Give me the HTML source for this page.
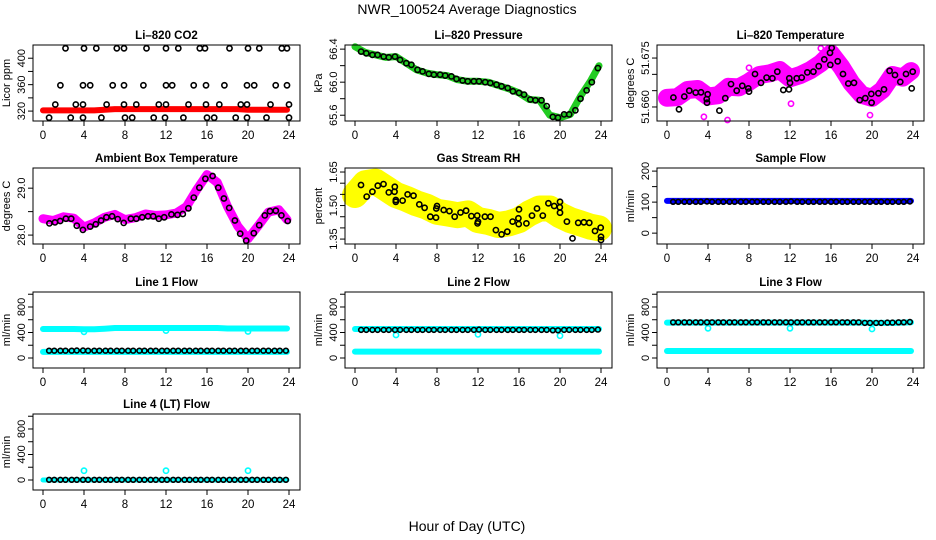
<!DOCTYPE html>
<html><head><meta charset="utf-8">
<style>
html,body{margin:0;padding:0;background:#fff;}
svg{display:block;font-family:"Liberation Sans",Arial,sans-serif;}
</style></head>
<body>
<svg id="chart" width="936" height="540" viewBox="0 0 936 540" xmlns="http://www.w3.org/2000/svg">
<rect x="0" y="0" width="936" height="540" fill="#fff"/>
<text x="467" y="14" text-anchor="middle" font-size="14">NWR_100524  Average Diagnostics</text>
<text x="467" y="531" text-anchor="middle" font-size="14">Hour of Day (UTC)</text>
</svg>
<script>
const X_TICKS = [0,4,8,12,16,20,24];
const BAND_H = [0,1,2,3,4,5,6,7,8,9,10,11,12,13,14,15,16,17,18,19,20,21,22,23,24];
const CIRC_H = [0.6,1.1,1.7,2.2,2.8,3.3,3.9,4.4,5.0,5.5,6.1,6.6,7.2,7.7,8.3,8.8,9.4,9.9,10.5,11.0,11.6,12.1,12.7,13.2,13.8,14.3,14.9,15.4,16.0,16.5,17.1,17.6,18.2,18.7,19.3,19.8,20.4,20.9,21.5,22.0,22.6,23.1,23.7];

// CO2
const CO2_BAND = [321,321,321,321,321,321,322,323,323,323,323,323,323,323,323,323,323,323,323,323,322,322,322,322,322];
const CO2_CIRC_H = [2.2,4.0,5.2,7.2,7.9,10.1,12.0,13.2,15.3,15.8,18.2,20.0,21.1,23.3,23.8, 1.7,3.9,4.6,6.8,7.9,9.8,12.0,12.6,14.7,15.9,17.7,19.9,20.6,22.7,23.8, 1.2,3.2,3.9,6.2,7.9,9.1,11.3,12.0,14.2,15.9,17.2,19.3,19.9,22.2,24.0, 0.6,2.7,3.9,5.7,8.0,8.7,10.8,11.9,13.7,16.0,16.7,18.8,19.9,21.8,24.0];
const CO2_CIRC_V = [415,415,415,415,415,415,415,415,415,415,415,415,415,415,415, 359,359,359,359,359,359,359,359,359,359,359,359,359,359,359, 330,330,330,330,330,330,330,330,330,330,330,330,330,330,330, 310,310,310,310,310,310,310,310,310,310,310,310,310,310,310];

// Pressure
const P_BAND = [66.43,66.36,66.33,66.30,66.31,66.23,66.15,66.11,66.09,66.08,66.03,66.01,66.01,66.00,65.96,65.92,65.87,65.79,65.78,65.60,65.57,65.61,65.83,66.02,66.20];
const P_CIRC = [66.37,66.35,66.33,66.33,66.31,66.30,66.31,66.27,66.23,66.21,66.15,66.13,66.10,66.09,66.09,66.08,66.07,66.04,66.02,66.01,66.01,66.01,66.00,65.99,65.97,65.95,65.93,65.89,65.87,65.85,65.79,65.78,65.78,65.71,65.58,65.57,65.61,65.61,65.66,65.80,65.90,66.00,66.17];

// Li-820 temperature
const T_BAND = [51.6628,51.6630,51.6652,51.6655,51.6632,51.6636,51.6662,51.6660,51.6677,51.6698,51.6703,51.6713,51.6688,51.6698,51.6713,51.6734,51.6764,51.6723,51.6673,51.6637,51.6628,51.6652,51.6698,51.6690,51.6710];
const T_CIRC_H = [0.62,1.17,1.69,2.18,2.80,3.32,3.97,3.87,3.90,5.11,5.69,6.24,6.80,7.35,7.93,8.00,8.59,9.17,9.72,10.28,10.76,11.35,11.90,11.93,12.00,12.65,13.14,13.69,14.28,14.80,15.35,15.90,15.93,16.07,16.65,17.17,17.69,18.24,18.80,19.35,19.93,19.96,20.62,21.17,21.72,22.24,22.76,23.32,23.87,23.97];
const T_CIRC_V = [51.6629,51.6593,51.6632,51.6650,51.6644,51.6645,51.6639,51.6624,51.6613,51.6589,51.6627,51.6670,51.6650,51.6665,51.6657,51.6647,51.6701,51.6674,51.6690,51.6688,51.6708,51.6652,51.6654,51.6688,51.6674,51.6688,51.6690,51.6706,51.6708,51.6725,51.6746,51.6766,51.6729,51.6781,51.6740,51.6701,51.6672,51.6674,51.6621,51.6627,51.6640,51.6613,51.6642,51.6654,51.6711,51.6698,51.6677,51.6701,51.6657,51.6708];
const T_OUT_H = [3.6,5.9,12.1,19.8,8.0,15.0];
const T_OUT_V = [51.6570,51.6560,51.6610,51.6575,51.6720,51.6780];

// Ambient box temperature
const A_BAND = [28.35,28.31,28.39,28.36,28.17,28.26,28.38,28.44,28.33,28.37,28.45,28.42,28.43,28.47,28.61,28.97,29.29,29.12,28.61,28.19,27.92,28.20,28.49,28.54,28.33];
const A_CIRC_H = [0.62,1.17,1.68,2.23,2.75,3.30,3.89,4.60,5.15,5.67,6.19,6.74,7.29,7.87,8.58,9.10,9.68,10.24,10.75,11.30,11.82,12.53,13.12,13.64,14.19,14.71,15.26,15.84,16.55,17.10,17.65,18.17,18.72,19.24,19.82,20.57,21.09,21.64,22.15,22.71,23.26,23.87];
const A_CIRC_V = [28.25,28.27,28.30,28.35,28.35,28.20,28.11,28.18,28.23,28.31,28.38,28.40,28.34,28.26,28.35,28.35,28.38,28.40,28.40,28.35,28.38,28.44,28.43,28.45,28.57,28.80,29.01,29.20,29.26,29.01,28.78,28.58,28.31,28.03,27.88,28.04,28.21,28.42,28.51,28.52,28.42,28.30];

// Gas stream RH
const RH_BAND = [1.547,1.600,1.607,1.577,1.547,1.530,1.510,1.495,1.472,1.465,1.457,1.465,1.435,1.427,1.413,1.420,1.435,1.465,1.487,1.487,1.457,1.435,1.420,1.405,1.398];
const RH_CIRC_H = [0.59,1.14,1.70,2.22,2.78,3.30,3.85,3.88,3.98,3.98,4.64,5.13,5.71,6.27,6.79,7.35,7.90,7.93,8.00,8.65,9.21,9.73,10.29,10.84,11.36,11.92,11.95,12.00,12.67,13.22,13.75,14.30,14.86,15.38,15.94,15.97,16.00,16.72,17.27,17.76,18.32,18.87,19.43,19.98,20.00,20.00,20.67,21.22,21.78,22.33,22.86,23.41,23.97,24.00,24.00];
const RH_CIRC_V = [1.592,1.540,1.562,1.589,1.596,1.559,1.562,1.584,1.525,1.517,1.522,1.550,1.544,1.505,1.490,1.450,1.446,1.487,1.498,1.480,1.475,1.450,1.469,1.477,1.453,1.455,1.420,1.428,1.450,1.450,1.390,1.371,1.383,1.428,1.443,1.417,1.483,1.420,1.455,1.487,1.455,1.510,1.498,1.492,1.517,1.468,1.428,1.353,1.423,1.425,1.423,1.386,1.401,1.360,1.346];

// Flows
const SF_BAND = [104,104,104,104,104,104,104,104,104,104,104,104,104,104,104,104,104,104,104,104,104,104,104,104,104];
const SF_CIRC = [101,101,101,101,101,101,102,101,101,101,101,101,101,101,101,101,101,101,101,101,101,102,101,101,101,101,101,101,101,101,101,101,101,101,101,101,101,101,101,101,101,101,102];
const L1_UP = [455,455,455,455,450,450,460,470,470,470,470,470,470,470,470,470,470,470,462,462,462,462,462,462,462];
const L1_LO = [95,95,95,95,95,95,95,95,95,95,95,95,95,95,95,95,95,95,95,95,95,95,95,95,95];
const L1_CIRC = [115,115,115,115,115,118,118,115,115,115,115,115,115,115,115,115,115,115,115,115,115,115,115,115,115,115,115,115,115,115,115,115,115,115,115,115,115,115,115,115,115,115,115];
const L1_OUT_H = [4.0,12.0,20.0];
const L1_OUT_V = [410,430,415];
const L2_UP = [455,455,455,455,455,455,455,455,455,455,455,455,455,455,455,455,455,455,455,455,455,455,455,455,455];
const L2_LO = [100,100,100,100,100,100,100,100,100,100,100,100,100,100,100,100,100,100,100,100,100,100,100,100,100];
const L2_CIRC = [440,440,440,440,440,440,440,440,440,440,440,440,440,440,440,440,440,440,440,440,440,445,440,440,440,440,440,440,440,440,440,440,440,440,435,435,440,440,440,440,440,440,445];
const L2_OUT_H = [4.0,12.0,20.0];
const L2_OUT_V = [360,370,350];
const L3_UP = [555,555,555,555,555,555,555,555,555,555,555,555,555,555,555,555,555,555,555,555,550,550,550,555,560];
const L3_LO = [110,110,110,110,110,110,110,110,110,110,110,110,110,110,110,110,110,110,110,110,110,110,110,110,110];
const L3_CIRC = [560,560,560,560,560,560,560,560,560,560,560,560,560,560,560,560,560,560,560,560,560,560,560,560,560,560,560,560,560,560,560,560,560,560,550,550,550,550,555,555,560,560,565];
const L3_OUT_H = [4.0,12.0,20.0];
const L3_OUT_V = [465,465,455];
const L4_BAND = [0,0,0,0,0,0,0,0,0,0,0,0,0,0,0,0,0,0,0,0,0,0,0,0,0];
const L4_CIRC = [3,3,3,3,3,3,3,3,3,3,3,3,3,3,3,3,3,3,3,3,3,3,3,3,3,3,3,3,3,3,3,3,3,3,3,3,3,3,3,3,3,3,3];
const L4_OUT_H = [4.0,12.0,20.0];
const L4_OUT_V = [145,145,145];

const NS = "http://www.w3.org/2000/svg";
const svg = document.getElementById('chart');
const COLS = [33,345,657];
const ROWS = [45,168,292,414];
const BW = 267, BH = 76;
const FLOW_T = [0,200,400,600,800,1000], FLOW_L = [0,400,800];

function mk(tag, attrs, parent){
  const e = document.createElementNS(NS, tag);
  for (const k in attrs) e.setAttribute(k, attrs[k]);
  (parent||svg).appendChild(e);
  return e;
}

function panel(id, title, ylab, col, row, ymin, ymax, ticks, labels, fmt){
  const L = COLS[col], T = ROWS[row];
  const g = mk('g', {});
  
  
  const sx = h => L + 10 + h * (246/24);
  const sy = v => T + (ymax - v) / (ymax - ymin) * BH;
  const marks = mk('g', {}, g);
  
  
  const box = mk('rect', {x:L, y:T, width:BW, height:BH, fill:'none', stroke:'#000', 'stroke-width':1}, g);
  
  
  const tt = mk('text', {x:L+BW/2, y:T-6, 'text-anchor':'middle', 'font-size':11.5, 'font-weight':'bold'}, g);
  tt.textContent = title;
  
  
  const yl = mk('text', {x:0, y:0, 'text-anchor':'middle', 'font-size':11, transform:`translate(${L-23},${T+BH/2}) rotate(-90)`}, g);
  yl.textContent = ylab;
  
  
  X_TICKS.forEach(h => {
    const x = sx(h);
    const tk = mk('line', {x1:x, x2:x, y1:T+BH, y2:T+BH+5, stroke:'#000'}, g);
    
    
    const lb = mk('text', {x:x, y:T+BH+18, 'text-anchor':'middle', 'font-size':11.5}, g);
    lb.textContent = String(h);
    
    
  });
  ticks.forEach(v => {
    const y = sy(v);
    const tk = mk('line', {x1:L-5, x2:L, y1:y, y2:y, stroke:'#000'}, g);
    
    
  });
  labels.forEach(v => {
    const y = sy(v);
    const lb = mk('text', {x:0, y:0, 'text-anchor':'middle', 'font-size':11, transform:`translate(${L-8},${y}) rotate(-90)`}, g);
    lb.textContent = fmt(v);
    
    
  });
  return {
    band(hs, vs, color, w, name){
      const d = hs.map((h,i)=>(i?'L':'M')+sx(h).toFixed(1)+','+sy(vs[i]).toFixed(1)).join(' ');
      const p = mk('path', {d:d, fill:'none', stroke:color, 'stroke-width':w, 'stroke-linejoin':'round', 'stroke-linecap':'round'}, marks);
      
      
    },
    circles(hs, vs, color, r, name, fill){
      hs.forEach((h,i) => {
        const c = mk('circle', {cx:sx(h).toFixed(1), cy:sy(vs[i]).toFixed(1), r:r, fill:fill||'none', stroke:color, 'stroke-width':1.6}, marks);
        
        
      });
    }
  };
}

const f0 = v => String(v), f1 = v => v.toFixed(1), f2 = v => v.toFixed(2), f3 = v => v.toFixed(3);

let p = panel('co2', 'Li\u2013820 CO2', 'Licor ppm', 0, 0, 305, 420, [320,340,360,380,400], [320,360,400], f0);
p.band(BAND_H.slice(0,24).concat([23.8]), CO2_BAND, '#ff0000', 6, 'co2-red-band');
p.circles(CO2_CIRC_H, CO2_CIRC_V, '#000', 2.6, 'co2-point');

p = panel('pressure', 'Li\u2013820 Pressure', 'kPa', 1, 0, 65.53, 66.45, [65.6,65.8,66.0,66.2,66.4], [65.6,66.0,66.4], f1);
p.band(BAND_H.slice(0,24).concat([23.8]), P_BAND, '#22cc22', 7, 'pressure-green-band');
p.circles(CIRC_H, P_CIRC, '#000', 2.6, 'pressure-point');

p = panel('licor-temp', 'Li\u2013820 Temperature', 'degrees C', 2, 0, 51.6557, 51.679, [51.660,51.665,51.670,51.675], [51.660,51.675], f3);
p.band(BAND_H.slice(0,24).concat([23.8]), T_BAND, '#ff00ff', 18, 'licor-temp-magenta-band');
p.circles(T_OUT_H, T_OUT_V, '#ff00ff', 2.6, 'licor-temp-outlier');
p.circles(T_CIRC_H, T_CIRC_V, '#000', 2.6, 'licor-temp-point');

p = panel('ambient', 'Ambient Box Temperature', 'degrees C', 0, 1, 27.81, 29.43, [28.0,28.5,29.0], [28.0,29.0], f1);
p.band(BAND_H.slice(0,24).concat([23.8]), A_BAND, '#ff00ff', 9, 'ambient-magenta-band');
p.circles(A_CIRC_H, A_CIRC_V, '#000', 2.6, 'ambient-point');

p = panel('rh', 'Gas Stream RH', 'percent', 1, 1, 1.328, 1.668, [1.35,1.40,1.45,1.50,1.55,1.60,1.65], [1.35,1.50,1.65], f2);
p.band(BAND_H.slice(0,24).concat([23.8]), RH_BAND, '#ffff00', 26, 'rh-yellow-band');
p.circles(RH_CIRC_H, RH_CIRC_V, '#000', 2.6, 'rh-point');

p = panel('sample-flow', 'Sample Flow', 'ml/min', 2, 1, -35, 210, [0,50,100,150,200], [0,100,200], f0);
p.band(BAND_H.slice(0,24).concat([23.8]), SF_BAND, '#0000ff', 6, 'sample-flow-blue-band');
p.circles(CIRC_H, SF_CIRC, '#000', 2.4, 'sample-flow-point');

p = panel('line1', 'Line 1 Flow', 'ml/min', 0, 2, -157, 1035, FLOW_T, FLOW_L, f0);
p.band(BAND_H.slice(0,24).concat([23.8]), L1_UP, '#00ffff', 6, 'line1-upper-band');
p.band(BAND_H.slice(0,24).concat([23.8]), L1_LO, '#00ffff', 6, 'line1-lower-band');
p.circles(L1_OUT_H, L1_OUT_V, '#00ffff', 2.6, 'line1-outlier');
p.circles(CIRC_H, L1_CIRC, '#000', 2.4, 'line1-point');

p = panel('line2', 'Line 2 Flow', 'ml/min', 1, 2, -157, 1035, FLOW_T, FLOW_L, f0);
p.band(BAND_H.slice(0,24).concat([23.8]), L2_UP, '#00ffff', 6, 'line2-upper-band');
p.band(BAND_H.slice(0,24).concat([23.8]), L2_LO, '#00ffff', 6, 'line2-lower-band');
p.circles(L2_OUT_H, L2_OUT_V, '#00ffff', 2.6, 'line2-outlier');
p.circles(CIRC_H, L2_CIRC, '#000', 2.4, 'line2-point');

p = panel('line3', 'Line 3 Flow', 'ml/min', 2, 2, -157, 1035, FLOW_T, FLOW_L, f0);
p.band(BAND_H.slice(0,24).concat([23.8]), L3_UP, '#00ffff', 6, 'line3-upper-band');
p.band(BAND_H.slice(0,24).concat([23.8]), L3_LO, '#00ffff', 6, 'line3-lower-band');
p.circles(L3_OUT_H, L3_OUT_V, '#00ffff', 2.6, 'line3-outlier');
p.circles(CIRC_H, L3_CIRC, '#000', 2.4, 'line3-point');

p = panel('line4', 'Line 4 (LT) Flow', 'ml/min', 0, 3, -157, 1035, FLOW_T, FLOW_L, f0);
p.band(BAND_H.slice(0,24).concat([23.8]), L4_BAND, '#00ffff', 5, 'line4-band');
p.circles(L4_OUT_H, L4_OUT_V, '#00ffff', 2.6, 'line4-outlier');
p.circles(CIRC_H, L4_CIRC, '#000', 2.4, 'line4-point');
</script>
</body></html>
